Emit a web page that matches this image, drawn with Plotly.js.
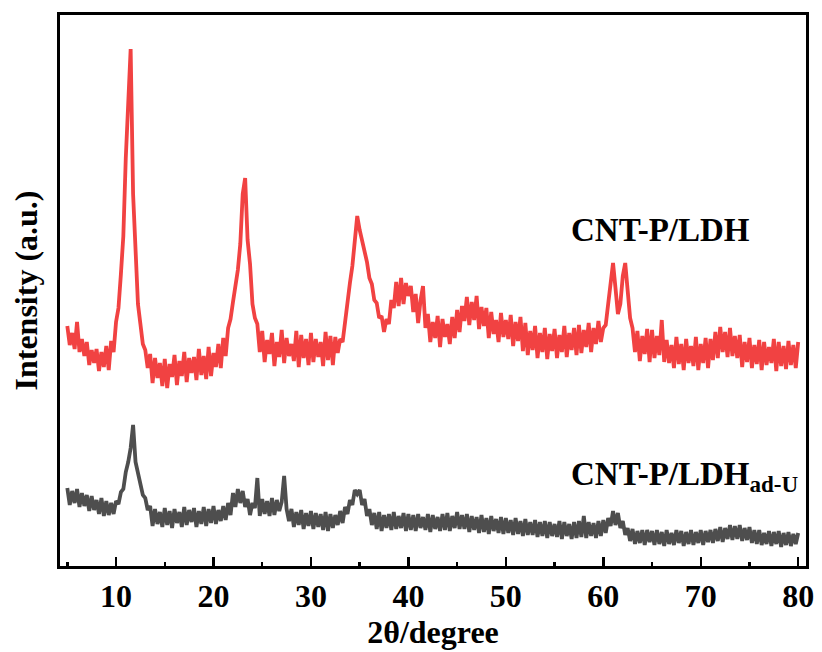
<!DOCTYPE html>
<html>
<head>
<meta charset="utf-8">
<script src="https://cdn.plot.ly/plotly-3.0.1.min.js"></script>
<style>html,body{margin:0;padding:0;background:#fff;}#chart{width:822px;height:652px;}</style>
</head>
<body>
<div id="chart"></div>
<script>
// 2θ sampling (degrees)
const twoTheta = [
5,5.25,5.5,5.75,6,6.25,6.5,6.75,7,7.25,7.5,7.75,8,8.25,8.5,8.75,9,9.25,9.5,9.75,
10,10.25,10.5,10.75,11,11.25,11.5,11.75,12,12.25,12.5,12.75,13,13.25,13.5,13.75,14,14.25,14.5,14.75,
15,15.25,15.5,15.75,16,16.25,16.5,16.75,17,17.25,17.5,17.75,18,18.25,18.5,18.75,19,19.25,19.5,19.75,
20,20.25,20.5,20.75,21,21.25,21.5,21.75,22,22.25,22.5,22.75,23,23.25,23.5,23.75,24,24.25,24.5,24.75,
25,25.25,25.5,25.75,26,26.25,26.5,26.75,27,27.25,27.5,27.75,28,28.25,28.5,28.75,29,29.25,29.5,29.75,
30,30.25,30.5,30.75,31,31.25,31.5,31.75,32,32.25,32.5,32.75,33,33.25,33.5,33.75,34,34.25,34.5,34.75,
35,35.25,35.5,35.75,36,36.25,36.5,36.75,37,37.25,37.5,37.75,38,38.25,38.5,38.75,39,39.25,39.5,39.75,
40,40.25,40.5,40.75,41,41.25,41.5,41.75,42,42.25,42.5,42.75,43,43.25,43.5,43.75,44,44.25,44.5,44.75,
45,45.25,45.5,45.75,46,46.25,46.5,46.75,47,47.25,47.5,47.75,48,48.25,48.5,48.75,49,49.25,49.5,49.75,
50,50.25,50.5,50.75,51,51.25,51.5,51.75,52,52.25,52.5,52.75,53,53.25,53.5,53.75,54,54.25,54.5,54.75,
55,55.25,55.5,55.75,56,56.25,56.5,56.75,57,57.25,57.5,57.75,58,58.25,58.5,58.75,59,59.25,59.5,59.75,
60,60.25,60.5,60.75,61,61.25,61.5,61.75,62,62.25,62.5,62.75,63,63.25,63.5,63.75,64,64.25,64.5,64.75,
65,65.25,65.5,65.75,66,66.25,66.5,66.75,67,67.25,67.5,67.75,68,68.25,68.5,68.75,69,69.25,69.5,69.75,
70,70.25,70.5,70.75,71,71.25,71.5,71.75,72,72.25,72.5,72.75,73,73.25,73.5,73.75,74,74.25,74.5,74.75,
75,75.25,75.5,75.75,76,76.25,76.5,76.75,77,77.25,77.5,77.75,78,78.25,78.5,78.75,79,79.25,79.5,79.75,
80
];

// CNT-P/LDH intensity (a.u., as plotted)
const cntLdh = [
240,221,233,217,244,214,227,210,224,201,216,203,217,195,214,199,220,196,225,214,
244,258,292,330,408,472,517,372,306,262,242,222,216,198,212,183,208,188,203,180,
207,178,202,189,211,181,205,190,214,184,208,193,209,186,217,191,210,187,219,190,
213,199,222,198,228,210,238,247,264,278,296,322,372,388,326,302,262,248,242,214,
235,204,226,212,233,200,224,209,236,203,228,210,222,205,235,199,231,208,227,201,
233,204,227,209,224,200,234,206,230,201,229,213,227,224,246,260,283,300,328,350,
336,326,312,304,288,282,266,263,248,250,234,247,242,266,258,284,260,288,262,283,
270,280,254,272,243,266,280,238,252,224,244,228,250,219,247,229,242,222,249,228,
256,234,260,245,269,241,264,246,270,237,259,240,258,228,254,232,246,224,253,229,
246,227,251,220,244,225,249,215,243,211,235,216,240,208,233,214,238,207,232,215,
237,208,231,214,240,209,233,216,238,211,241,213,236,219,243,214,238,222,245,224,
238,241,262,286,303,278,252,262,290,303,276,248,238,214,235,205,230,212,237,204,
236,208,230,211,246,204,226,203,221,198,229,202,222,196,227,203,220,200,229,196,
222,203,228,198,227,206,234,208,239,214,234,209,238,210,230,208,231,199,224,204,
228,198,221,202,226,196,224,201,219,203,227,195,224,200,220,197,225,201,221,198,
224
];

// CNT-P/LDH ad-U intensity (a.u., as plotted)
const cntLdhAdU = [
78,61,75,63,77,59,73,60,71,55,70,56,66,52,68,50,65,51,63,52,
65,62,74,77,94,104,118,141,104,92,82,71,68,56,60,40,57,42,54,39,
58,41,55,38,57,43,54,39,59,41,56,44,58,39,55,42,59,40,57,43,
60,42,56,45,60,46,63,51,73,59,77,63,75,59,67,51,63,58,88,50,
67,52,65,50,68,51,66,55,64,90,57,45,57,39,54,41,56,37,53,40,
55,37,53,39,52,36,54,35,52,38,51,41,55,43,59,52,66,61,76,72,
76,61,67,50,57,41,53,37,54,35,51,38,52,36,54,37,50,38,53,35,
52,36,51,35,52,38,49,36,52,34,51,37,49,35,52,36,53,35,50,38,
54,37,51,37,52,34,50,36,49,33,51,34,48,32,50,35,47,33,49,32,
48,33,46,31,48,32,45,30,47,31,44,31,46,29,44,30,45,28,44,30,
42,29,45,27,44,30,42,27,44,28,45,29,50,28,44,30,43,28,45,30,
46,33,48,40,55,41,53,38,45,31,38,25,37,22,35,23,36,21,36,24,
35,21,36,22,34,20,36,22,33,21,36,23,35,20,34,22,36,21,34,23,
36,21,35,24,36,23,37,25,39,24,38,27,41,26,40,27,41,25,38,26,
39,23,36,22,36,21,33,22,35,20,34,22,35,19,33,21,34,20,32,22,
33
];

const xTickVals = [10, 20, 30, 40, 50, 60, 70, 80];
const xTickText = ['10', '20', '30', '40', '50', '60', '70', '80'];
const labelTop = 'CNT-P/LDH';
const labelBottom = 'CNT-P/LDH<sub>ad-U</sub>';

const FONT = '"Times New Roman", "Liberation Serif", serif';

const traces = [
  {x: twoTheta, y: cntLdh, type: 'scatter', mode: 'lines', name: 'CNT-P/LDH',
   line: {color: 'rgb(241,66,66)', width: 3.8}},
  {x: twoTheta, y: cntLdhAdU, type: 'scatter', mode: 'lines', name: 'CNT-P/LDH ad-U',
   line: {color: 'rgb(78,78,78)', width: 3.8}}
];

const layout = {
  width: 822, height: 652,
  margin: {l: 60, r: 16, t: 15, b: 86},
  paper_bgcolor: '#fff', plot_bgcolor: '#fff',
  showlegend: false,
  font: {family: FONT, color: '#000', size: 32},
  xaxis: {
    range: [4.25, 80.8],
    tickmode: 'array', tickvals: xTickVals, ticktext: xTickText,
    ticks: 'inside', ticklen: 9, tickwidth: 2.5, tickcolor: '#000',
    minor: {dtick: 5, tick0: 5, ticks: 'inside', ticklen: 4, tickwidth: 2.5, tickcolor: '#000'},
    showline: true, linewidth: 3, linecolor: '#000', mirror: true,
    showgrid: false, zeroline: false,
    tickfont: {family: FONT, size: 32, color: '#000', weight: 'bold'},
    title: {text: '<b>2θ/degree</b>', font: {family: FONT, size: 32, color: '#000'}, standoff: 0}
  },
  yaxis: {
    range: [0, 551],
    showticklabels: false, ticks: '',
    showline: true, linewidth: 3, linecolor: '#000', mirror: true,
    showgrid: false, zeroline: false,
    title: {text: '<b>Intensity (a.u.)</b>', font: {family: FONT, size: 32, color: '#000'}, standoff: 10}
  },
  annotations: [
    {x: 65.9, y: 336, xref: 'x', yref: 'y', text: '<b>' + labelTop + '</b>', showarrow: false,
     xanchor: 'center', yanchor: 'middle', font: {family: FONT, size: 33, color: '#000'}},
    {x: 56.5, y: 90, xref: 'x', yref: 'y', text: '<b>' + labelBottom + '</b>', showarrow: false,
     xanchor: 'left', yanchor: 'middle', font: {family: FONT, size: 33, color: '#000'}}
  ]
};

Plotly.newPlot('chart', traces, layout, {displayModeBar: false, staticPlot: true});
</script>
</body>
</html>
